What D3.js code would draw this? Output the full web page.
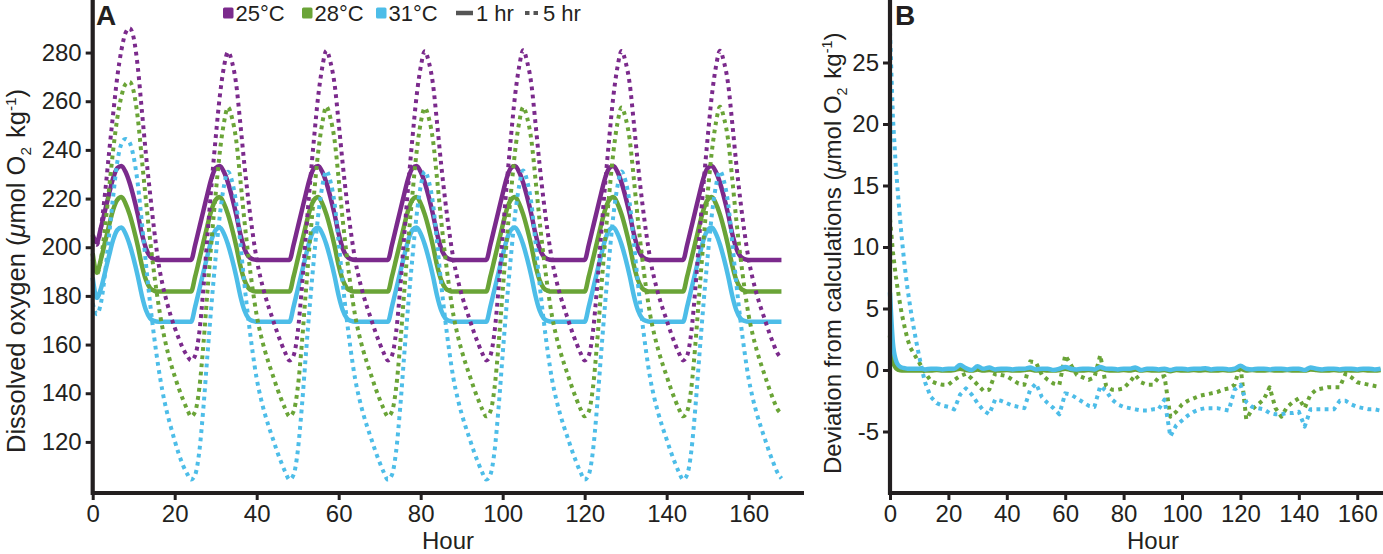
<!DOCTYPE html>
<html>
<head>
<meta charset="utf-8">
<script src="https://cdn.jsdelivr.net/npm/d3@7"></script>
<style>
  body { margin: 0; background: #fff; }
  svg { display: block; font-family: "Liberation Sans", Arial, Helvetica, sans-serif; }
</style>
</head>
<body>
<svg id="chart" width="1383" height="554"></svg>
<script>
// ---- data: panel A, hourly values, hour 0..168 ----
const hoursA = d3.range(0, 169);

const purple1hr = [
  205, 202, 208, 215, 222, 228.5, 232.5, 233.4, 231, 226.5, 220.5, 213.5, 205.5, 199.5, 196.2, 195.1, 194.8, 194.8, 194.8, 194.8, 194.8, 194.8, 194.8, 194.8,
  194.8, 201, 208, 215, 222, 228.5, 232.5, 233.4, 231, 226.5, 220.5, 213.5, 205.5, 199.5, 196.2, 195.1, 194.8, 194.8, 194.8, 194.8, 194.8, 194.8, 194.8, 194.8,
  194.8, 201, 208, 215, 222, 228.5, 232.5, 233.4, 231, 226.5, 220.5, 213.5, 205.5, 199.5, 196.2, 195.1, 194.8, 194.8, 194.8, 194.8, 194.8, 194.8, 194.8, 194.8,
  194.8, 201, 208, 215, 222, 228.5, 232.5, 233.4, 231, 226.5, 220.5, 213.5, 205.5, 199.5, 196.2, 195.1, 194.8, 194.8, 194.8, 194.8, 194.8, 194.8, 194.8, 194.8,
  194.8, 201, 208, 215, 222, 228.5, 232.5, 233.4, 231, 226.5, 220.5, 213.5, 205.5, 199.5, 196.2, 195.1, 194.8, 194.8, 194.8, 194.8, 194.8, 194.8, 194.8, 194.8,
  194.8, 201, 208, 215, 222, 228.5, 232.5, 233.4, 231, 226.5, 220.5, 213.5, 205.5, 199.5, 196.2, 195.1, 194.8, 194.8, 194.8, 194.8, 194.8, 194.8, 194.8, 194.8,
  194.8, 201, 208, 215, 222, 228.5, 232.5, 233.4, 231, 226.5, 220.5, 213.5, 205.5, 199.5, 196.2, 195.1, 194.8, 194.8, 194.8, 194.8, 194.8, 194.8, 194.8, 194.8,
  194.8
];

const green1hr = [
  197.5, 189.5, 195, 202, 209, 215.5, 219.5, 220.6, 218, 213.5, 207.5, 200.5, 192.5, 186.5, 183.2, 182.1, 181.8, 181.8, 181.8, 181.8, 181.8, 181.8, 181.8, 181.8,
  181.8, 188, 195, 202, 209, 215.5, 219.5, 220.6, 218, 213.5, 207.5, 200.5, 192.5, 186.5, 183.2, 182.1, 181.8, 181.8, 181.8, 181.8, 181.8, 181.8, 181.8, 181.8,
  181.8, 188, 195, 202, 209, 215.5, 219.5, 220.6, 218, 213.5, 207.5, 200.5, 192.5, 186.5, 183.2, 182.1, 181.8, 181.8, 181.8, 181.8, 181.8, 181.8, 181.8, 181.8,
  181.8, 188, 195, 202, 209, 215.5, 219.5, 220.6, 218, 213.5, 207.5, 200.5, 192.5, 186.5, 183.2, 182.1, 181.8, 181.8, 181.8, 181.8, 181.8, 181.8, 181.8, 181.8,
  181.8, 188, 195, 202, 209, 215.5, 219.5, 220.6, 218, 213.5, 207.5, 200.5, 192.5, 186.5, 183.2, 182.1, 181.8, 181.8, 181.8, 181.8, 181.8, 181.8, 181.8, 181.8,
  181.8, 188, 195, 202, 209, 215.5, 219.5, 220.6, 218, 213.5, 207.5, 200.5, 192.5, 186.5, 183.2, 182.1, 181.8, 181.8, 181.8, 181.8, 181.8, 181.8, 181.8, 181.8,
  181.8, 188, 195, 202, 209, 215.5, 219.5, 220.6, 218, 213.5, 207.5, 200.5, 192.5, 186.5, 183.2, 182.1, 181.8, 181.8, 181.8, 181.8, 181.8, 181.8, 181.8, 181.8,
  181.8
];

const blue1hr = [
  187.5, 179.2, 183, 189.6, 196.6, 203.1, 207.1, 208.1, 205.6, 201.1, 195.1, 188.1, 180.1, 174.1, 170.8, 169.7, 169.4, 169.4, 169.4, 169.4, 169.4, 169.4, 169.4, 169.4,
  169.4, 175.6, 182.6, 189.6, 196.6, 203.1, 207.1, 208.1, 205.6, 201.1, 195.1, 188.1, 180.1, 174.1, 170.8, 169.7, 169.4, 169.4, 169.4, 169.4, 169.4, 169.4, 169.4, 169.4,
  169.4, 175.6, 182.6, 189.6, 196.6, 203.1, 207.1, 208.1, 205.6, 201.1, 195.1, 188.1, 180.1, 174.1, 170.8, 169.7, 169.4, 169.4, 169.4, 169.4, 169.4, 169.4, 169.4, 169.4,
  169.4, 175.6, 182.6, 189.6, 196.6, 203.1, 207.1, 208.1, 205.6, 201.1, 195.1, 188.1, 180.1, 174.1, 170.8, 169.7, 169.4, 169.4, 169.4, 169.4, 169.4, 169.4, 169.4, 169.4,
  169.4, 175.6, 182.6, 189.6, 196.6, 203.1, 207.1, 208.1, 205.6, 201.1, 195.1, 188.1, 180.1, 174.1, 170.8, 169.7, 169.4, 169.4, 169.4, 169.4, 169.4, 169.4, 169.4, 169.4,
  169.4, 175.6, 182.6, 189.6, 196.6, 203.1, 207.1, 208.1, 205.6, 201.1, 195.1, 188.1, 180.1, 174.1, 170.8, 169.7, 169.4, 169.4, 169.4, 169.4, 169.4, 169.4, 169.4, 169.4,
  169.4, 175.6, 182.6, 189.6, 196.6, 203.1, 207.1, 208.1, 205.6, 201.1, 195.1, 188.1, 180.1, 174.1, 170.8, 169.7, 169.4, 169.4, 169.4, 169.4, 169.4, 169.4, 169.4, 169.4,
  169.4
];

const purple5hr = [
  204, 201, 208, 222, 239, 255, 270, 281, 288, 290, 286, 274, 256, 238, 222, 207, 194, 185, 178, 172, 167, 162.5, 158.5, 155.5,
  153.5, 155.5, 165, 183, 205, 226, 245, 262, 274, 280.2, 276, 267, 251, 234, 219, 206, 195, 187, 180.5, 175, 170, 165, 160.5, 156.5,
  153.5, 155.5, 165, 183, 205, 226, 245, 262, 274, 280.8, 276, 267, 251, 234, 219, 206, 195, 187, 180.5, 175, 170, 165, 160.5, 156.5,
  153.5, 155.5, 165, 183, 205, 226, 245, 262, 274, 280.5, 276, 267, 251, 234, 219, 206, 195, 187, 180.5, 175, 170, 165, 160.5, 156.5,
  153.5, 155.5, 165, 183, 205, 226, 245, 262, 274, 280.9, 276, 267, 251, 234, 219, 206, 195, 187, 180.5, 175, 170, 165, 160.5, 156.5,
  153.5, 155.5, 165, 183, 205, 226, 245, 262, 274, 280.6, 276, 267, 251, 234, 219, 206, 195, 187, 180.5, 175, 170, 165, 160.5, 156.5,
  153.5, 155.5, 165, 183, 205, 226, 245, 262, 274, 280.7, 276, 267, 251, 234, 219, 206, 195, 187, 180.5, 175, 170, 165, 160.5, 156.5,
  154.5
];

const green5hr = [
  195, 189, 195, 208, 224, 240, 253, 262, 267, 268, 264, 253, 236, 219, 203, 189, 177, 167, 159, 152.5, 147, 142, 137.5, 133.5,
  130.5, 132.5, 142, 160, 182, 203, 222, 239, 251, 257.5, 253, 244, 228, 211, 196, 183, 172, 164, 157.5, 152, 147, 142, 137.5, 133.5,
  130.5, 132.5, 142, 160, 182, 203, 222, 239, 251, 257.8, 253, 244, 228, 211, 196, 183, 172, 164, 157.5, 152, 147, 142, 137.5, 133.5,
  130.5, 132.5, 142, 160, 182, 203, 222, 239, 251, 257.3, 253, 244, 228, 211, 196, 183, 172, 164, 157.5, 152, 147, 142, 137.5, 133.5,
  130.5, 132.5, 142, 160, 182, 203, 222, 239, 251, 257.6, 253, 244, 228, 211, 196, 183, 172, 164, 157.5, 152, 147, 142, 137.5, 133.5,
  130.5, 132.5, 142, 160, 182, 203, 222, 239, 251, 257.4, 253, 244, 228, 211, 196, 183, 172, 164, 157.5, 152, 147, 142, 137.5, 133.5,
  130.5, 132.5, 142, 160, 182, 203, 222, 239, 251, 257.7, 253, 244, 228, 211, 196, 183, 172, 164, 157.5, 152, 147, 142, 137.5, 133.5,
  131.5
];

const blue5hr = [
  177, 172.5, 177, 189, 205, 221, 235, 242.5, 244.5, 243, 237, 226, 210, 193, 177, 163, 151, 141, 133, 126.5, 120.5, 115, 110.5, 107,
  104.5, 106.5, 116, 134, 156, 177, 196, 213, 225, 231, 227, 218, 202, 185, 170, 157, 146, 138, 131.5, 126, 121, 116, 111.5, 107.5,
  104.5, 106.5, 116, 134, 156, 177, 196, 213, 225, 231.4, 227, 218, 202, 185, 170, 157, 146, 138, 131.5, 126, 121, 116, 111.5, 107.5,
  104.5, 106.5, 116, 134, 156, 177, 196, 213, 225, 231.2, 227, 218, 202, 185, 170, 157, 146, 138, 131.5, 126, 121, 116, 111.5, 107.5,
  104.5, 106.5, 116, 134, 156, 177, 196, 213, 225, 231.5, 227, 218, 202, 185, 170, 157, 146, 138, 131.5, 126, 121, 116, 111.5, 107.5,
  104.5, 106.5, 116, 134, 156, 177, 196, 213, 225, 231.1, 227, 218, 202, 185, 170, 157, 146, 138, 131.5, 126, 121, 116, 111.5, 107.5,
  104.5, 106.5, 116, 134, 156, 177, 196, 213, 225, 231.3, 227, 218, 202, 185, 170, 157, 146, 138, 131.5, 126, 121, 116, 111.5, 107.5,
  105
];

// ---- data: panel B, deviation from calculations ----
const hoursB = [0, 1, 2, 3, 4, 5, 6, 7, 8, 9, 10, 11, 12,
  14, 16, 18, 20, 22, 24, 26, 28, 30, 32,
  34, 36, 38, 40, 42, 44, 46, 48, 50, 52,
  54, 56, 58, 60, 62, 64, 66, 68, 70, 72,
  74, 76, 78, 80, 82, 84, 86, 88, 90, 92,
  94, 96, 98, 100, 102, 104, 106, 108, 110, 112,
  114, 116, 118, 120, 122, 124, 126, 128, 130, 132,
  134, 136, 138, 140, 142, 144, 146, 148, 150, 152,
  154, 156, 158, 160, 162, 164, 166, 168];

const blue1hrDev = [6.3, 2.2, 0.8, 0.35, 0.2, 0.15, 0.1, 0.1, 0.1, 0.1, 0.1, 0.1, 0.05,
  0.1, 0.1, 0.05, 0.1, 0.1, 0.4, 0.15, 0.0, 0.3, 0.1,
  0.2, 0.05, 0.1, 0.1, 0.05, 0.1, 0.1, 0.2, 0.05, 0.1,
  0.1, 0.0, 0.1, 0.25, 0.1, 0.05, 0.1, 0.1, 0.05, 0.25,
  0.1, 0.1, 0.05, 0.1, 0.1, 0.2, 0.0, 0.1, 0.1, 0.05,
  0.1, 0.0, 0.1, 0.1, 0.05, 0.1, 0.1, 0.15, 0.05, 0.1,
  0.1, 0.05, 0.1, 0.35, 0.1, 0.05, 0.1, 0.1, 0.05, 0.1,
  0.1, 0.05, 0.1, 0.1, 0.0, 0.2, 0.1, 0.05, 0.1, 0.1,
  0.05, 0.1, 0.1, 0.05, 0.1, 0.1, 0.05, 0.1];

const green1hrDev = [2.8, 0.7, 0.15, 0.0, -0.05, -0.05, -0.05, -0.05, -0.05, -0.05, -0.05, -0.05, -0.05,
  -0.05, 0.0, -0.05, -0.05, 0.0, 0.1, 0.0, -0.05, 0.05, -0.05,
  0.0, -0.05, -0.05, 0.0, -0.05, -0.05, 0.0, 0.05, -0.05, 0.0,
  -0.05, -0.05, 0.0, 0.1, 0.0, -0.05, -0.05, 0.0, -0.05, 0.1,
  0.0, -0.05, -0.05, 0.0, -0.05, 0.05, -0.05, 0.0, -0.05, -0.05,
  0.0, -0.1, 0.0, -0.05, -0.05, 0.0, -0.05, 0.0, -0.05, -0.05,
  0.0, -0.05, 0.0, 0.1, -0.05, 0.0, -0.05, -0.05, 0.0, -0.05,
  -0.05, 0.0, -0.05, -0.05, -0.05, 0.05, 0.0, -0.05, -0.05, 0.0,
  -0.05, 0.0, -0.05, -0.05, 0.0, -0.05, -0.05, 0.0];

const blue5hrDev = [27.5, 20.5, 16.5, 13.5, 10.8, 8.5, 6.6, 5.0, 3.6, 2.3, 1.1, 0.0, -1.0,
  -2.2, -2.7, -2.9, -3.0, -3.2, -2.0, -1.5, -2.0, -2.7, -3.3,
  -3.6, -2.4, -2.5, -2.7, -2.9, -3.0, -3.1, -1.6, -1.1, -2.2,
  -2.7, -3.1, -3.6, -1.9, -2.0, -2.3, -2.6, -2.9, -3.0, -1.3,
  -1.7, -2.4, -2.8, -3.0, -3.1, -3.2, -3.3, -3.3, -3.2, -3.2,
  -2.4, -5.4, -4.5, -4.1, -3.7, -3.4, -3.2, -3.1, -3.1, -3.1,
  -3.2, -3.3, -1.6, -1.2, -2.6, -3.0, -3.1, -3.2, -3.5, -3.6,
  -3.6, -3.5, -3.5, -3.4, -4.6, -3.2, -3.2, -3.2, -3.2, -3.2,
  -2.5, -2.5, -2.8, -3.0, -3.1, -3.2, -3.2, -3.3];

const green5hrDev = [12.3, 9.6, 7.6, 6.0, 4.6, 3.5, 2.5, 1.8, 1.4, 1.0, 0.6, 0.2, -0.2,
  -0.9, -1.1, -1.2, -1.2, -0.8, -0.5, -0.3, -0.7, -1.2, -1.7,
  -1.6, -0.3, -0.4, -0.5, -0.8, -1.1, -1.2, 0.7, 0.6, -0.4,
  -0.8, -1.1, -1.2, 1.2, 0.4, -0.4, -0.6, -0.8, -0.6, 1.2,
  -1.3, -1.6, -1.6, -1.5, -1.0, -0.4, -1.0, -1.2, -1.2, -0.6,
  -0.5, -3.8, -3.4, -2.8, -2.5, -2.3, -2.1, -2.0, -1.9, -1.8,
  -1.6, -1.5, -1.2, 0.4, -4.0, -3.2, -2.8, -2.4, -1.4, -3.1,
  -3.8, -3.0, -2.6, -2.3, -3.1, -2.0, -1.6, -1.5, -1.4, -1.4,
  -1.4, -0.3, -0.6, -1.0, -1.1, -1.2, -1.3, -1.4];

// ticks and legend
const hourTicks = [0, 20, 40, 60, 80, 100, 120, 140, 160];
const oxygenTicks = [120, 140, 160, 180, 200, 220, 240, 260, 280];
const deviationTicks = [-5, 0, 5, 10, 15, 20, 25];
const tempLabels = ['25°C', '28°C', '31°C'];
const durationLabels = ['1 hr', '5 hr'];

const purple = '#7b2a8c', green = '#6aa437', blue = '#4dbde8';
const ink = '#231f20';

const svg = d3.select('#chart');
svg.append('rect').attr('width', 1383).attr('height', 554).attr('fill', '#fff');

// scales
var xA = d3.scaleLinear().domain([0, 173.5]).range([92.7, 804]);
var yA = d3.scaleLinear().domain([99, 301.6]).range([493, 0]);
var xB = d3.scaleLinear().domain([0, 168]).range([890, 1380.6]);
var yB = d3.scaleLinear().domain([-10, 30]).range([493, 1]);

function drawLine(values, hours, x, y, color, dotted, curve) {
    const line = d3.line()
        .x((d, i) => x(hours[i]))
        .y(d => y(d))
        .curve(curve);
    svg.append('path')
        .datum(values)
        .attr('d', line)
        .attr('fill', 'none')
        .attr('stroke', color)
        .attr('stroke-width', dotted ? 4 : 4.5)
        .attr('stroke-dasharray', dotted ? '3.8,4.4' : null)
        .attr('stroke-linejoin', 'round');
}

// panel A lines
drawLine(purple1hr, hoursA, xA, yA, purple, false, d3.curveMonotoneX);
drawLine(green1hr, hoursA, xA, yA, green, false, d3.curveMonotoneX);
drawLine(blue1hr, hoursA, xA, yA, blue, false, d3.curveMonotoneX);
drawLine(purple5hr, hoursA, xA, yA, purple, true, d3.curveMonotoneX);
drawLine(green5hr, hoursA, xA, yA, green, true, d3.curveMonotoneX);
drawLine(blue5hr, hoursA, xA, yA, blue, true, d3.curveMonotoneX);

// panel B lines
drawLine(green5hrDev, hoursB, xB, yB, green, true, d3.curveLinear);
drawLine(blue5hrDev, hoursB, xB, yB, blue, true, d3.curveLinear);
drawLine(green1hrDev, hoursB, xB, yB, green, false, d3.curveMonotoneX);
drawLine(blue1hrDev, hoursB, xB, yB, blue, false, d3.curveMonotoneX);

function styleAxis(g) {
    g.select('.domain').remove();
    g.selectAll('line').attr('stroke', ink).attr('stroke-width', 3);
    g.selectAll('text').attr('fill', ink).attr('font-size', 24)
        .attr('font-family', '"Liberation Sans", Arial, sans-serif');
}

function drawAxes(x, y, yTicks, xEnd) {
    const x0 = x.range()[0], yBase = y.range()[0];
    svg.append('g').attr('transform', `translate(0,${yBase})`)
        .call(d3.axisBottom(x).tickValues(hourTicks).tickSize(7).tickPadding(5).tickSizeOuter(0).tickFormat(d => String(d)))
        .call(styleAxis);
    svg.append('g').attr('transform', `translate(${x0},0)`)
        .call(d3.axisLeft(y).tickValues(yTicks).tickSize(7).tickPadding(4).tickSizeOuter(0).tickFormat(d => String(d)))
        .call(styleAxis);
    svg.append('path')
        .attr('d', `M${x0},0V${yBase}H${xEnd}`)
        .attr('fill', 'none').attr('stroke', ink).attr('stroke-width', 4.2)
        .attr('stroke-linecap', 'butt').attr('stroke-linejoin', 'miter');
}

drawAxes(xA, yA, oxygenTicks, 804);
drawAxes(xB, yB, deviationTicks, 1383);

// panel letters
svg.append('text').attr('x', 96).attr('y', 25).attr('font-size', 28).attr('font-weight', 'bold').attr('fill', ink).text('A');
svg.append('text').attr('x', 895).attr('y', 25).attr('font-size', 28).attr('font-weight', 'bold').attr('fill', ink).text('B');

// x axis titles
svg.append('text').attr('x', 448).attr('y', 549).attr('text-anchor', 'middle').attr('font-size', 24).attr('fill', ink).text('Hour');
svg.append('text').attr('x', 1153).attr('y', 549).attr('text-anchor', 'middle').attr('font-size', 24).attr('fill', ink).text('Hour');

// y axis titles
function yTitle(x, y, lead, size) {
    const t = svg.append('text')
        .attr('transform', `translate(${x},${y}) rotate(-90)`)
        .attr('font-size', size).attr('fill', ink);
    t.append('tspan').text(lead + ' (');
    t.append('tspan').attr('font-style', 'italic').text('μ');
    t.append('tspan').text('mol O');
    t.append('tspan').attr('font-size', size * 0.6).attr('dy', 6).text('2');
    t.append('tspan').attr('dy', -6).attr('dx', 2).text(' kg');
    t.append('tspan').attr('font-size', size * 0.6).attr('dy', -9).text('-1');
    t.append('tspan').attr('dy', 9).text(')');
}
yTitle(25, 453, 'Dissolved oxygen', 25.5);
yTitle(841, 474, 'Deviation from calculations', 24);

// legend
const legendColors = [purple, green, blue];
const legendX = [223, 302, 376];
const legend = svg.append('g').attr('font-size', 22).attr('fill', ink);
tempLabels.forEach((lab, i) => {
    legend.append('rect').attr('x', legendX[i]).attr('y', 7.5).attr('width', 10.5).attr('height', 11)
        .attr('rx', 1.5).attr('fill', legendColors[i]);
    legend.append('text').attr('x', legendX[i] + 12.5).attr('y', 21).text(lab);
});
legend.append('line').attr('x1', 456).attr('x2', 473).attr('y1', 13).attr('y2', 13)
    .attr('stroke', '#555').attr('stroke-width', 4.5);
legend.append('text').attr('x', 476).attr('y', 21).text(durationLabels[0]);
legend.append('line').attr('x1', 525).attr('x2', 541).attr('y1', 13).attr('y2', 13)
    .attr('stroke', '#555').attr('stroke-width', 4).attr('stroke-dasharray', '4.5,4');
legend.append('text').attr('x', 543).attr('y', 21).text(durationLabels[1]);
</script>
</body>
</html>
